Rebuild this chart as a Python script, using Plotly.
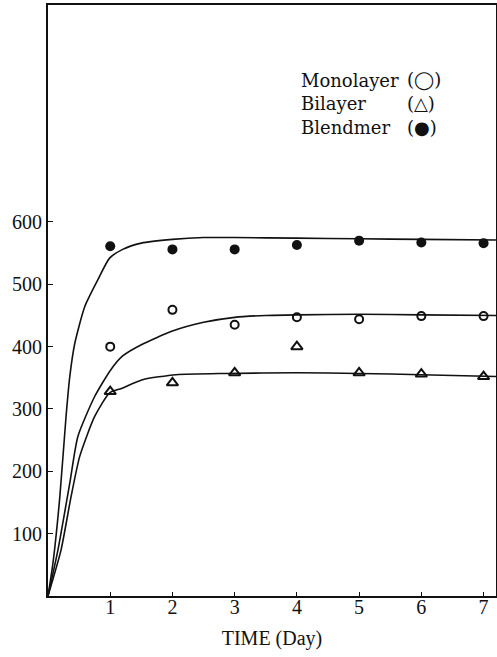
import plotly.graph_objects as go

# Measured data points
days = [1, 2, 3, 4, 5, 6, 7]
monolayer = [400, 459, 435, 447, 444, 449, 449]
bilayer = [328, 342, 358, 400, 358, 356, 352]
blendmer = [561, 556, 556, 563, 570, 567, 566]

# Hand-drawn trend curves
blend_fit_x = [0, 0.08, 0.19, 0.29, 0.35, 0.43, 0.59, 0.80, 0.99, 1.2, 1.5, 2.0, 2.5, 3, 4, 5, 6, 7.2]
blend_fit_y = [0, 53, 159, 288, 352, 405, 464, 507, 542, 556, 566, 572, 575, 575, 574, 573, 572, 571]

mono_fit_x = [0, 0.16, 0.35, 0.48, 0.75, 1.01, 1.2, 1.5, 2.0, 2.5, 3.0, 3.5, 4.0, 5.0, 6.0, 7.2]
mono_fit_y = [0, 74, 181, 256, 320, 363, 385, 403, 425, 439, 447, 450, 451, 452, 451, 450]

bi_fit_x = [0, 0.21, 0.37, 0.51, 0.75, 0.99, 1.18, 1.52, 2.06, 2.86, 4, 5, 6, 7.2]
bi_fit_y = [0, 74, 159, 224, 288, 326, 333, 347, 355, 357, 358, 357, 355, 352]

x_ticks = [1, 2, 3, 4, 5, 6, 7]
y_ticks = [100, 200, 300, 400, 500, 600]

legend_names = ["Monolayer", "Bilayer", "Blendmer"]
legend_syms = ["(\u25EF)", "(\u25B3)", "(\u25CF)"]

INK = "#111111"
SERIF = "Liberation Serif, Times New Roman, serif"

fig = go.Figure()

for fx, fy in [(blend_fit_x, blend_fit_y), (mono_fit_x, mono_fit_y), (bi_fit_x, bi_fit_y)]:
    fig.add_trace(go.Scatter(x=fx, y=fy, mode="lines",
                             line=dict(color=INK, width=1.6, shape="spline", smoothing=0.6),
                             showlegend=False, hoverinfo="skip"))

fig.add_trace(go.Scatter(x=days, y=blendmer, mode="markers", name="Blendmer",
                         marker=dict(symbol="circle", size=10, color=INK), showlegend=False))
fig.add_trace(go.Scatter(x=days, y=monolayer, mode="markers", name="Monolayer",
                         marker=dict(symbol="circle-open", size=8, color=INK, line=dict(width=2)),
                         showlegend=False))
fig.add_trace(go.Scatter(x=days, y=bilayer, mode="markers", name="Bilayer",
                         marker=dict(symbol="triangle-up-open", size=10, color=INK, line=dict(width=2)),
                         showlegend=False))

leg_y = [0.873, 0.834, 0.792]
for name, sym, yy in zip(legend_names, legend_syms, leg_y):
    fig.add_annotation(text=name, xref="paper", yref="paper", x=0.56, y=yy,
                       xanchor="left", yanchor="middle", showarrow=False,
                       font=dict(family="DejaVu Serif, serif", size=18, color=INK))
    fig.add_annotation(text=sym, xref="paper", yref="paper", x=0.797, y=yy,
                       xanchor="left", yanchor="middle", showarrow=False,
                       font=dict(family="DejaVu Serif, serif", size=18, color=INK))

fig.update_layout(
    width=497, height=657,
    margin=dict(l=48, r=1, t=5, b=61, autoexpand=False),
    paper_bgcolor="white", plot_bgcolor="white",
    showlegend=False,
    xaxis=dict(range=[0, 7.2], tickvals=x_ticks, ticktext=[str(v) for v in x_ticks],
               showline=True, linecolor=INK, linewidth=2, mirror=True, automargin=False,
               ticks="inside", ticklen=4, tickcolor=INK, showgrid=False, zeroline=False,
               ticklabelstandoff=-8,
               tickfont=dict(family=SERIF, size=20, color=INK),
               title=dict(text="TIME (Day)", font=dict(family=SERIF, size=20, color=INK), standoff=14)),
    yaxis=dict(range=[0, 948], tickvals=y_ticks, ticktext=[str(v) for v in y_ticks],
               showline=True, linecolor=INK, linewidth=2, mirror=True, automargin=False,
               ticks="inside", ticklen=5, tickcolor=INK, showgrid=False, zeroline=False,
               tickfont=dict(family=SERIF, size=20, color=INK)),
)

fig.write_html("out.html", config={"displayModeBar": False},
               post_script="document.body.style.margin='0';document.body.style.overflow='hidden';")
